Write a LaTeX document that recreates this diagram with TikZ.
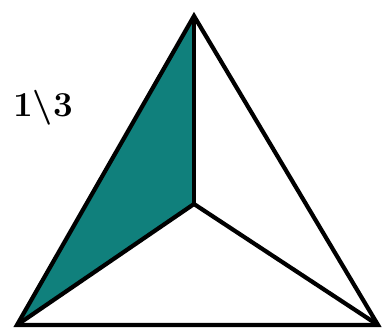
\documentclass[tikz,border=0pt]{standalone}
\usepackage[dvipsnames,svgnames,x11names]{xcolor}
\usepackage{tikz}
\definecolor{tealfill}{RGB}{16,128,124}

\begin{document}
\begin{tikzpicture}[x=1pt,y=-1pt,line join=miter]
\useasboundingbox (0,0) rectangle (385,334);
\coordinate (top) at (194,16);
\coordinate (bl) at (17,325);
\coordinate (br) at (378,325);
\coordinate (mid) at (194,204);
\fill[tealfill] (top) -- (bl) -- (mid) -- cycle;
\draw[draw=black,line width=4.2pt] (top) -- (bl) -- (br) -- cycle;
\draw[draw=black,line width=4.2pt] (top) -- (mid);
\draw[draw=black,line width=4.2pt] (bl) -- (mid);
\draw[draw=black,line width=4.2pt] (br) -- (mid);
\node[text=black,font=\fontsize{35}{40}\selectfont\bfseries,inner sep=0pt] (frac) at (43,108) {1\textbackslash3};
\end{tikzpicture}
\end{document}
